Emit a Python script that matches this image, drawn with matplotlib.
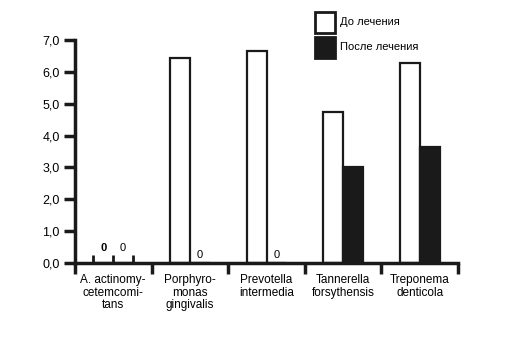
import numpy as np
import matplotlib.pyplot as plt
from matplotlib.patches import Rectangle

plt.rcParams['font.family'] = ['Liberation Sans', 'DejaVu Sans']

# Данные
categories = ['A. actinomy-\ncetemcomi-\ntans', 'Porphyro-\nmonas\ngingivalis',
              'Prevotella\nintermedia', 'Tannerella\nforsythensis', 'Treponema\ndenticola']
before = [0.0, 6.45, 6.65, 4.73, 6.27]
after = [0.0, 0.0, 0.0, 3.03, 3.64]
series_labels = ['До лечения', 'После лечения']
yticks = [0, 1, 2, 3, 4, 5, 6, 7]

W, H = 513, 363
fig = plt.figure(figsize=(W / 100, H / 100), dpi=100)
ax = fig.add_axes([0.146, 0.2755, 0.747, 0.614])

x = np.arange(len(categories))
w = 0.26
ax.bar(x - w / 2, before, w, color='white', edgecolor='#1a1a1a', linewidth=1.6)
ax.bar(x + w / 2, after, w, color='#1a1a1a', edgecolor='#1a1a1a', linewidth=1.6)

# нулевые значения: метки "0" и короткие штрихи
for i in range(len(categories)):
    if before[i] == 0 and after[i] == 0:
        ax.vlines([x[i] - w, x[i], x[i] + w], 0, 0.25, color='#1a1a1a', linewidth=2)
        ax.text(x[i] - w / 2, 0.3, '0', ha='center', va='bottom', fontsize=8, fontweight='bold')
        ax.text(x[i] + w / 2, 0.3, '0', ha='center', va='bottom', fontsize=8)
    elif after[i] == 0:
        ax.text(x[i] + w / 2, 0.1, '0', ha='center', va='bottom', fontsize=8)

ax.set_xlim(-0.5, len(categories) - 0.5)
ax.set_ylim(0, 7)
ax.set_yticks(yticks)
ax.set_yticklabels([f'{v:.1f}'.replace('.', ',') for v in yticks], fontsize=9)

# границы категорий — штрихи вниз, подписи по центру
ax.set_xticks(np.arange(-0.5, len(categories)), labels=[''] * (len(categories) + 1))
ax.set_xticks(x, labels=categories, minor=True)
for lbl in ax.get_xticklabels(minor=True):
    lbl.set_linespacing(1.05)
ax.tick_params(axis='x', which='major', direction='out', length=8, width=2.5, color='#1a1a1a')
ax.tick_params(axis='x', which='minor', length=0, labelsize=8.5, pad=8)
ax.tick_params(axis='y', direction='out', length=8, width=2.5, color='#1a1a1a', pad=3)

for s in ['top', 'right']:
    ax.spines[s].set_visible(False)
for s in ['left', 'bottom']:
    ax.spines[s].set_linewidth(2.5)
    ax.spines[s].set_color('#1a1a1a')

# легенда вручную
for k, (fc, lab) in enumerate(zip(['white', '#1a1a1a'], series_labels)):
    top = 12 + k * 25
    fig.patches.append(Rectangle((315 / W, 1 - (top + 21) / H), 20 / W, 21 / H,
                                 transform=fig.transFigure, facecolor=fc,
                                 edgecolor='#1a1a1a', linewidth=2))
    fig.text(340 / W, 1 - (top + 10) / H, lab, fontsize=8, va='center', ha='left')

fig.savefig('out.png', dpi=100)
